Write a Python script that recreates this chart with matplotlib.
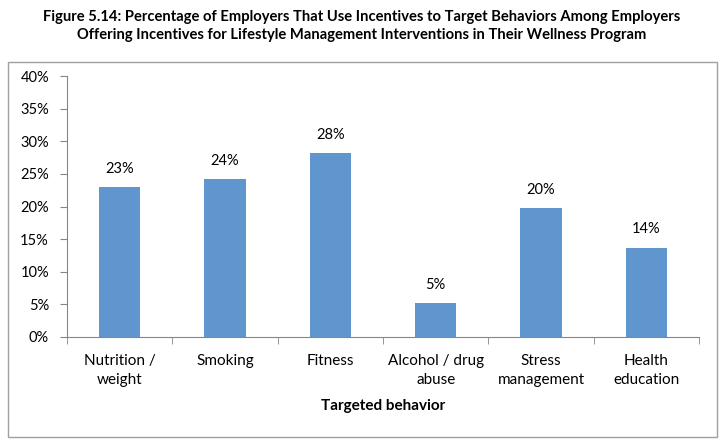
import matplotlib.pyplot as plt
import numpy as np
from matplotlib.patches import Rectangle

categories = ["Nutrition /\nweight", "Smoking", "Fitness", "Alcohol / drug\nabuse",
              "Stress\nmanagement", "Health\neducation"]
values = [23.0, 24.2, 28.2, 5.2, 19.7, 13.7]
labels = ["23%", "24%", "28%", "5%", "20%", "14%"]
yticks = [0, 5, 10, 15, 20, 25, 30, 35, 40]

plt.rcParams['font.family'] = ['Lato', 'DejaVu Sans']
W, H = 724, 441
fig = plt.figure(figsize=(W / 100, H / 100), dpi=100)

# outer chart frame
fig.patches.append(Rectangle((8 / W, 1 - 437 / H), 709 / W, 375 / H, transform=fig.transFigure,
                             fill=False, edgecolor='#a0a0a0', linewidth=1))

fig.text(0.5, 1 - 17 / H, "Figure 5.14: Percentage of Employers That Use Incentives to Target Behaviors Among Employers",
         ha='center', va='center', fontsize=10.6, fontweight='bold')
fig.text(0.5, 1 - 35 / H, "Offering Incentives for Lifestyle Management Interventions in Their Wellness Program",
         ha='center', va='center', fontsize=10.6, fontweight='bold')

ax = fig.add_axes([67 / W, 1 - 337 / H, 632 / W, 261 / H])
x = np.arange(len(categories))
ax.bar(x, values, width=0.39, color='#5f96cd')
for xi, v, lab in zip(x, values, labels):
    ax.annotate(lab, (xi, v), xytext=(0, 8), textcoords='offset points',
                ha='center', va='bottom', fontsize=10.5)

ax.set_xlim(-0.5, len(categories) - 0.5)
ax.set_ylim(0, 40)
ax.set_yticks(yticks)
ax.set_yticklabels([f"{t}%" for t in yticks], fontsize=10.5)
ax.set_xticks(x)
ax.set_xticklabels(categories, fontsize=11, linespacing=1.45)
ax.set_xticks(np.arange(len(categories) + 1) - 0.5, minor=True)
ax.tick_params(axis='x', which='major', length=0, pad=12)
ax.tick_params(axis='x', which='minor', length=5, color='#868686')
ax.tick_params(axis='y', length=5, color='#868686', pad=8)
ax.set_xlabel("Targeted behavior", fontsize=11, fontweight='bold', labelpad=9)

for s in ['top', 'right']:
    ax.spines[s].set_visible(False)
for s in ['left', 'bottom']:
    ax.spines[s].set_color('#868686')

fig.savefig("out.png", dpi=100)
